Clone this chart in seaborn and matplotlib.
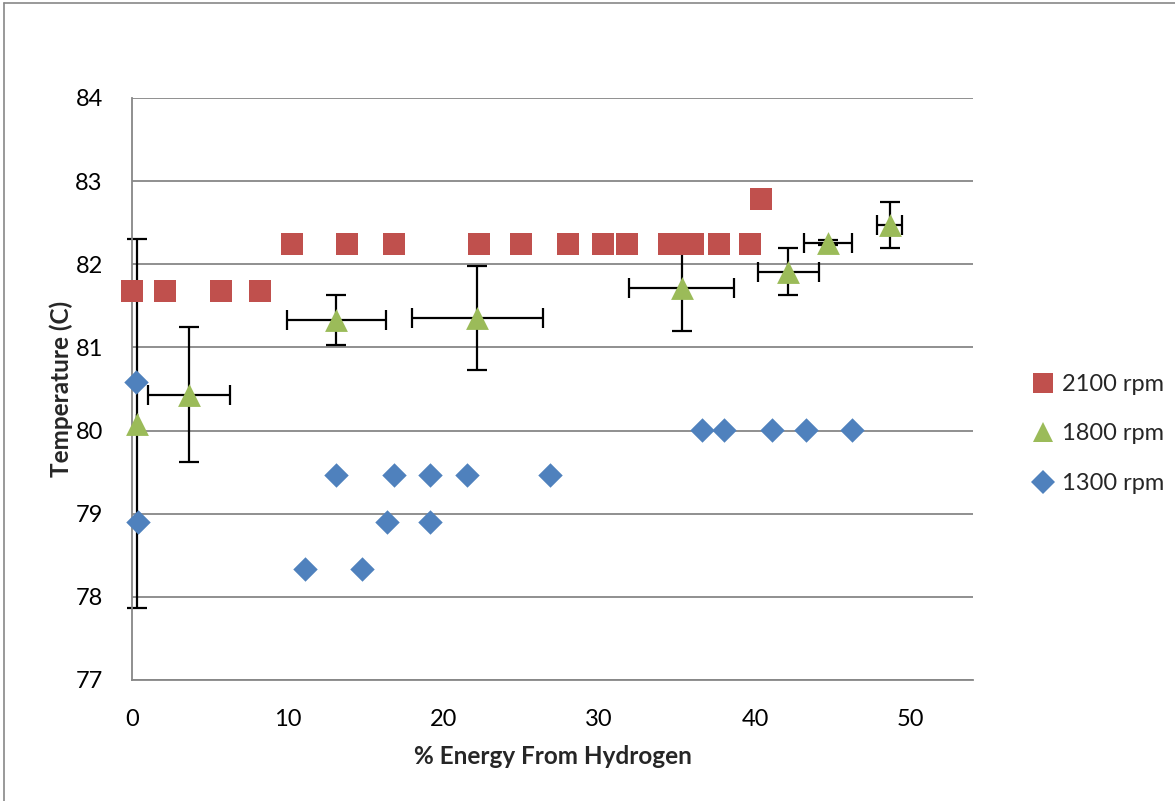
import numpy as np
import pandas as pd
import matplotlib
matplotlib.use("Agg")
import matplotlib.pyplot as plt
import seaborn as sns
from matplotlib.lines import Line2D

# ---- data ----
x_2100 = [0.0, 2.15, 5.72, 8.23, 10.27, 13.8, 16.8, 22.25, 24.95, 27.97, 30.23,
          31.77, 34.47, 35.43, 36.01, 37.68, 39.68, 40.39]
y_2100 = [81.68, 81.68, 81.68, 81.68, 82.24, 82.24, 82.24, 82.24, 82.24, 82.24,
          82.24, 82.24, 82.24, 82.24, 82.24, 82.24, 82.24, 82.79]

x_1800 = [0.34, 3.67, 13.12, 22.17, 35.31, 42.14, 44.69, 48.64]
y_1800 = [80.08, 80.43, 81.33, 81.35, 81.72, 81.91, 82.26, 82.47]
xerr_1800 = [0.0, 2.62, 3.17, 4.22, 3.37, 1.95, 1.52, 0.83]
yerr_1800 = [2.22, 0.81, 0.30, 0.625, 0.52, 0.28, 0.03, 0.28]

x_1300 = [0.24, 0.37, 11.1, 13.12, 14.75, 16.4, 16.85, 19.16, 19.16, 21.54,
          26.82, 36.63, 37.98, 41.09, 43.28, 46.24]
y_1300 = [80.58, 78.90, 78.34, 79.46, 78.34, 78.90, 79.46, 79.46, 78.90, 79.46,
          79.46, 80.01, 80.01, 80.01, 80.01, 80.01]

series_names = ["2100 rpm", "1800 rpm", "1300 rpm"]
colors = {"2100 rpm": "#C0504D", "1800 rpm": "#9BBB59", "1300 rpm": "#4F81BD"}
markers = {"2100 rpm": "s", "1800 rpm": "^", "1300 rpm": "D"}
x_ticks = [0, 10, 20, 30, 40, 50]
y_ticks = [77, 78, 79, 80, 81, 82, 83, 84]

df = pd.concat([
    pd.DataFrame({"x": x_2100, "y": y_2100, "series": "2100 rpm"}),
    pd.DataFrame({"x": x_1800, "y": y_1800, "series": "1800 rpm"}),
    pd.DataFrame({"x": x_1300, "y": y_1300, "series": "1300 rpm"}),
], ignore_index=True)

sns.set_style("white")
plt.rcParams["font.family"] = ["Lato", "DejaVu Sans"]

fig = plt.figure(figsize=(11.75, 8.01), dpi=100)
ax = fig.add_axes([132 / 1175, 1 - 680 / 801, (973 - 132) / 1175, (680 - 98) / 801])

# error bars (behind markers)
eb = ax.errorbar(x_1800, y_1800, xerr=xerr_1800, yerr=yerr_1800, fmt="none",
                 ecolor="black", elinewidth=1.6, capsize=7, capthick=1.6, zorder=2)
for art in eb.lines[1] + eb.lines[2]:
    art.set_clip_on(False)

sizes = {"2100 rpm": 230, "1800 rpm": 270, "1300 rpm": 155}
for name in series_names:
    sub = df[df["series"] == name]
    sns.scatterplot(data=sub, x="x", y="y", ax=ax, color=colors[name],
                    marker=markers[name], s=sizes[name], linewidth=0,
                    zorder=3, legend=False, clip_on=False)

ax.set_xlim(0, 54)
ax.set_ylim(77, 84)
ax.set_xticks(x_ticks)
ax.set_yticks(y_ticks)
ax.tick_params(axis="both", which="both", length=0, labelsize=17, colors="black")
ax.tick_params(axis="y", pad=21)
ax.tick_params(axis="x", pad=21)
ax.yaxis.grid(True, color="#878787", linewidth=1.3)
ax.xaxis.grid(False)
ax.set_axisbelow(True)
for s in ["top", "right"]:
    ax.spines[s].set_visible(False)
for s in ["left", "bottom"]:
    ax.spines[s].set_color("#878787")
    ax.spines[s].set_linewidth(1.3)

ax.set_xlabel("% Energy From Hydrogen", fontsize=17.5, fontweight="bold", labelpad=11)
ax.set_ylabel("Temperature (C)", fontsize=17.5, fontweight="bold", labelpad=2)

handles = [Line2D([0], [0], marker=markers[n], color="none", markerfacecolor=colors[n],
                  markeredgewidth=0, markersize={"2100 rpm": 14, "1800 rpm": 15, "1300 rpm": 12}[n],
                  label=n) for n in series_names]
fig.legend(handles=handles, loc="center left", bbox_to_anchor=(1022 / 1175, 1 - 434 / 801),
           frameon=False, fontsize=17, handletextpad=0.3, labelspacing=1.2,
           handlelength=1.0, borderaxespad=0)

# outer chart border
fig.add_artist(Line2D([4 / 1175, 4 / 1175], [0, 1 - 3 / 801], transform=fig.transFigure,
                      color="#878787", linewidth=1.2))
fig.add_artist(Line2D([4 / 1175, 1], [1 - 3 / 801, 1 - 3 / 801], transform=fig.transFigure,
                      color="#878787", linewidth=1.2))

fig.savefig("out.png", dpi=100)
